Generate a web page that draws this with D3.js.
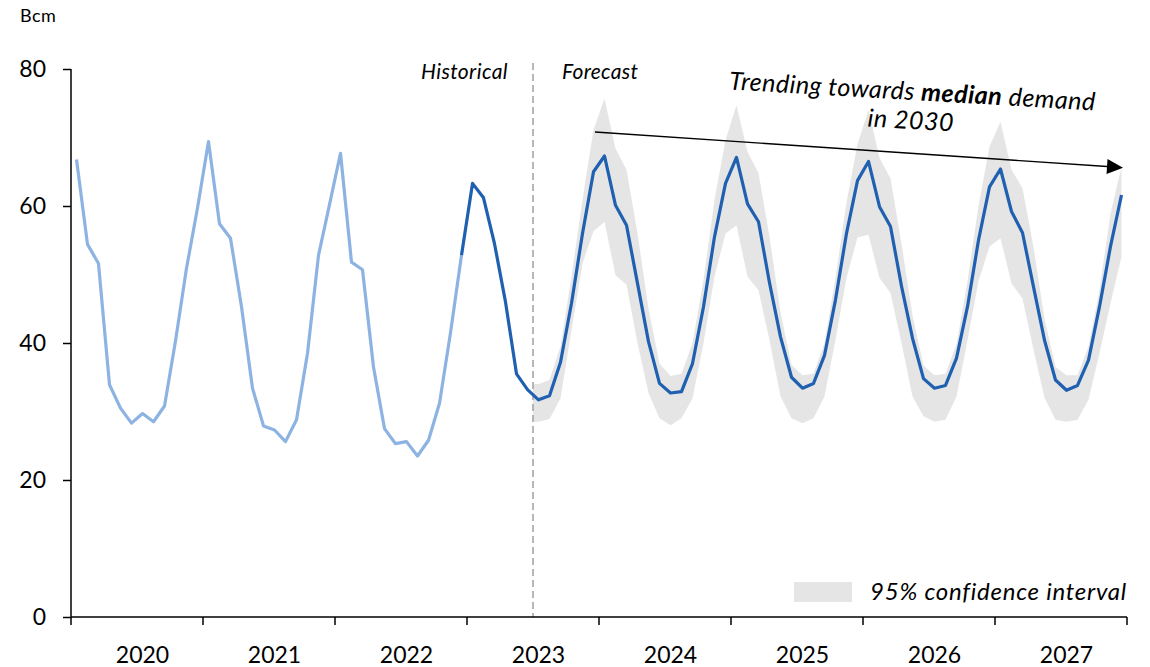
<!DOCTYPE html>
<html>
<head>
<meta charset="utf-8">
<script src="https://cdn.jsdelivr.net/npm/d3@7"></script>
<style>
  html, body { margin: 0; padding: 0; background: #fff; }
  svg { display: block; font-family: Lato, "Noto Sans", sans-serif; }
</style>
</head>
<body>
<svg id="chart" width="1150" height="667"></svg>
<script>
// ---------------- data ----------------
const years = ["2020", "2021", "2022", "2023", "2024", "2025", "2026", "2027"];
const monthNames = ["Jan", "Feb", "Mar", "Apr", "May", "Jun", "Jul", "Aug", "Sep", "Oct", "Nov", "Dec"];
const yTicks = [0, 20, 40, 60, 80];

// Historical demand, Jan 2020 - Dec 2022 (light line)
const historicalEarly = [
  66.8, 54.4, 51.6, 33.9, 30.5, 28.3, 29.7, 28.5, 30.8, 40.3, 50.9, 59.7,
  69.4, 57.4, 55.3, 45.3, 33.4, 27.9, 27.3, 25.6, 28.8, 38.5, 52.8, 60.2,
  67.7, 51.8, 50.7, 36.5, 27.5, 25.3, 25.6, 23.5, 25.8, 31.2, 41.5, 52.8
];
// Historical demand, Dec 2022 - Jul 2023 (dark line)
const historicalRecent = [52.8, 63.3, 61.2, 54.5, 46.0, 35.5, 33.2, 31.7];
// Forecast median, Jul 2023 - Dec 2027
const forecastMedian = [
  31.7, 32.3, 37.2, 45.8, 56.0, 65.0, 67.3, 60.1, 57.2, 48.7, 40.2, 34.1,
  32.7, 32.9, 37.0, 45.3, 55.5, 63.3, 67.1, 60.3, 57.7, 48.8, 40.9, 35.0,
  33.4, 34.1, 38.2, 46.3, 56.0, 63.7, 66.5, 59.9, 57.0, 48.3, 40.7, 34.8,
  33.4, 33.8, 37.8, 45.3, 55.0, 62.8, 65.4, 59.2, 56.1, 48.2, 40.4, 34.6,
  33.1, 33.8, 37.5, 45.3, 54.1, 61.6
];
// 95% confidence interval, Jun 2023 - Dec 2027
const ciUpper = [
  34.0, 34.0, 34.6, 39.5, 49.7, 60.9, 71.1, 75.7, 68.4, 65.3, 56.0, 45.0, 37.0,
  35.2, 35.5, 40.0, 49.2, 60.9, 69.6, 74.7, 67.9, 64.8, 55.5, 44.5, 36.8,
  35.3, 35.5, 40.0, 49.5, 60.5, 69.0, 74.0, 67.0, 64.0, 54.5, 44.0, 36.7,
  35.3, 35.5, 39.8, 49.0, 60.0, 68.7, 72.3, 65.3, 62.6, 54.0, 43.5, 36.5,
  35.3, 35.3, 39.5, 47.7, 58.9, 65.7
];
const ciLower = [
  28.5, 28.5, 28.9, 31.9, 41.9, 51.6, 56.3, 57.7, 49.9, 48.5, 40.0, 32.7, 29.0,
  28.0, 29.0, 31.9, 40.0, 49.7, 56.0, 57.2, 49.7, 47.7, 40.4, 32.2, 29.0,
  28.3, 29.0, 32.2, 40.5, 49.5, 55.4, 55.8, 49.5, 47.3, 40.0, 32.2, 29.3,
  28.5, 28.8, 32.2, 40.4, 49.0, 54.1, 55.3, 48.7, 46.5, 39.0, 32.0, 28.8,
  28.5, 28.8, 31.7, 38.5, 45.8, 52.6
];
// Trend arrow (month, value)
const trendArrow = [["Dec 2023", 70.8], ["Dec 2027", 65.6]];

const labels = {
  unit: "Bcm",
  historical: "Historical",
  forecast: "Forecast",
  legend: "95% confidence interval",
  trendLine2: "in 2030"
};

// ---------------- build ----------------
const months = years.flatMap(yr => monthNames.map(m => `${m} ${yr}`));
const svg = d3.select("#chart");
const plotLeft = 71, plotRight = 1127, plotTop = 69, plotBottom = 617;

const x = d3.scaleBand().domain(months).range([plotLeft, plotRight]).padding(0);
const cx = m => x(m) + x.bandwidth() / 2;
const y = d3.scaleLinear().domain([0, 80]).range([plotBottom, plotTop]);

const seriesFrom = (startMonth, values) => {
  const s = months.indexOf(startMonth);
  return values.map((v, i) => ({ m: months[s + i], v }));
};

const lightData = seriesFrom("Jan 2020", historicalEarly);
const darkData = seriesFrom("Dec 2022", historicalRecent)
  .concat(seriesFrom("Jul 2023", forecastMedian).slice(1));
const bandData = ciUpper.map((u, i) => ({
  m: months[months.indexOf("Jun 2023") + i], u, l: ciLower[i]
}));

const dividerX = x("Jul 2023");

// clip band to forecast side
svg.append("defs").append("clipPath").attr("id", "fc")
  .append("rect")
  .attr("x", dividerX).attr("y", 0)
  .attr("width", plotRight - dividerX + 2).attr("height", plotBottom);

// band
svg.append("path")
  .datum(bandData)
  .attr("clip-path", "url(#fc)")
  .attr("fill", "#e5e5e5")
  .attr("d", d3.area().x(d => cx(d.m)).y0(d => y(d.l)).y1(d => y(d.u)));

// divider
svg.append("line")
  .attr("x1", dividerX).attr("x2", dividerX)
  .attr("y1", 63).attr("y2", plotBottom)
  .attr("stroke", "#a6a6a6").attr("stroke-width", 1.6)
  .attr("stroke-dasharray", "7,4");

const line = d3.line().x(d => cx(d.m)).y(d => y(d.v));
svg.append("path").datum(lightData)
  .attr("fill", "none").attr("stroke", "#8db3e2").attr("stroke-width", 3.2)
  .attr("stroke-linejoin", "round").attr("d", line);
svg.append("path").datum(darkData)
  .attr("fill", "none").attr("stroke", "#1f60b0").attr("stroke-width", 3.2)
  .attr("stroke-linejoin", "round").attr("d", line);

// axes
const yAxis = d3.axisLeft(y).tickValues(yTicks).tickSize(8).tickPadding(17);
const gy = svg.append("g").attr("transform", `translate(${plotLeft},0)`).call(yAxis);
gy.select(".domain").attr("stroke", "#000").attr("stroke-width", 1.5).attr("d", `M0,${plotTop}V${plotBottom}`);
gy.selectAll(".tick line").attr("stroke", "#000").attr("stroke-width", 1.5);
gy.selectAll(".tick text").attr("font-size", 23).attr("fill", "#000")
  .attr("font-family", "Lato, sans-serif");

const yearEdges = years.map(yr => x(`Jan ${yr}`)).concat([plotRight]);
const gx = svg.append("g");
gx.append("line").attr("x1", plotLeft).attr("x2", plotRight)
  .attr("y1", plotBottom).attr("y2", plotBottom)
  .attr("stroke", "#000").attr("stroke-width", 1.5);
gx.selectAll("line.tk").data(yearEdges).join("line").attr("class", "tk")
  .attr("x1", d => d).attr("x2", d => d)
  .attr("y1", plotBottom).attr("y2", plotBottom + 8)
  .attr("stroke", "#000").attr("stroke-width", 1.5);
gx.selectAll("text").data(years).join("text")
  .attr("x", yr => cx(`Jul ${yr}`))
  .attr("y", 663)
  .attr("text-anchor", "middle")
  .attr("font-size", 23).attr("fill", "#000")
  .text(d => d);

// unit label
svg.append("text").attr("x", 20).attr("y", 22)
  .attr("font-size", 18).attr("letter-spacing", 0.5).attr("fill", "#000").text(labels.unit);

// Historical / Forecast
svg.append("text").attr("x", 421).attr("y", 79)
  .attr("font-size", 21).attr("letter-spacing", 0.4).attr("font-style", "italic").attr("fill", "#000")
  .text(labels.historical);
svg.append("text").attr("x", 562).attr("y", 79)
  .attr("font-size", 21).attr("letter-spacing", 0.3).attr("font-style", "italic").attr("fill", "#000")
  .text(labels.forecast);

// trend annotation
const tg = svg.append("g").attr("transform", "translate(912,100) rotate(3.3)");
const t1 = tg.append("text").attr("x", 0).attr("y", 0)
  .attr("text-anchor", "middle").attr("font-size", 25).attr("letter-spacing", 0.5)
  .attr("font-style", "italic").attr("fill", "#000");
t1.append("tspan").text("Trending towards ");
t1.append("tspan").attr("font-weight", "bold").text("median");
t1.append("tspan").text(" demand");
tg.append("text").attr("x", 0).attr("y", 29)
  .attr("text-anchor", "middle").attr("font-size", 25).attr("letter-spacing", 0.5)
  .attr("font-style", "italic").attr("fill", "#000").text(labels.trendLine2);

// arrow
const ax1 = cx(trendArrow[0][0]) + 1.5, ay1 = y(trendArrow[0][1]);
const ax2 = cx(trendArrow[1][0]) + 1.5, ay2 = y(trendArrow[1][1]);
const ang = Math.atan2(ay2 - ay1, ax2 - ax1);
const headLen = 16, headHalf = 7.5;
const bx = ax2 - headLen * Math.cos(ang), by = ay2 - headLen * Math.sin(ang);
svg.append("line").attr("x1", ax1).attr("y1", ay1).attr("x2", bx).attr("y2", by)
  .attr("stroke", "#000").attr("stroke-width", 1.4);
svg.append("path")
  .attr("d", `M${ax2},${ay2}L${bx - headHalf * Math.sin(ang)},${by + headHalf * Math.cos(ang)}L${bx + headHalf * Math.sin(ang)},${by - headHalf * Math.cos(ang)}Z`)
  .attr("fill", "#000");

// legend
svg.append("rect").attr("x", 794).attr("y", 582).attr("width", 58).attr("height", 20)
  .attr("fill", "#e5e5e5");
svg.append("text").attr("x", 1127).attr("y", 600)
  .attr("text-anchor", "end").attr("font-size", 24).attr("letter-spacing", 0.75)
  .attr("font-style", "italic").attr("fill", "#000").text(labels.legend);
</script>
</body>
</html>
